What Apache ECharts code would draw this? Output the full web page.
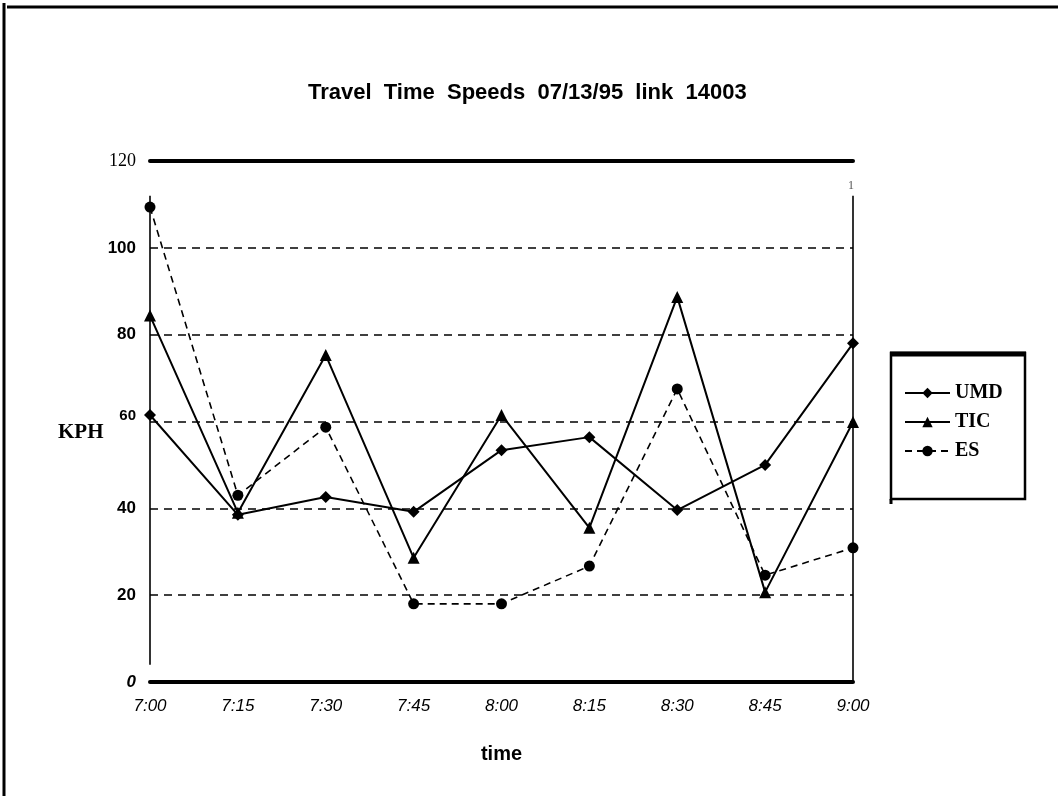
<!DOCTYPE html>
<html>
<head>
<meta charset="utf-8">
<script src="https://cdn.jsdelivr.net/npm/echarts@6/dist/echarts.min.js"></script>
<style>html,body{margin:0;padding:0;background:#fff;}#c{width:1058px;height:796px;}</style>
</head>
<body>
<div id="c"></div>
<script>
const categories = ['7:00','7:15','7:30','7:45','8:00','8:15','8:30','8:45','9:00'];
const umd = [61.5, 38.5, 42.6, 39.2, 53.4, 56.4, 39.6, 50, 78];
const tic = [84.4, 39, 75.3, 28.6, 61.5, 35.5, 88.7, 20.7, 59.9];
const es  = [109.4, 43, 58.7, 18, 18, 26.7, 67.5, 24.6, 30.9];
const yTicks = [0, 20, 40, 60, 80, 100, 120];
const seriesNames = ['UMD', 'TIC', 'ES'];
const titleText = 'Travel  Time  Speeds  07/13/95  link  14003';
const yName = 'KPH';
const xName = 'time';

const SANS = 'Liberation Sans, Arial, sans-serif';
const SERIF = 'Liberation Serif, Times New Roman, serif';

const chart = echarts.init(document.getElementById('c'), null, {renderer: 'canvas'});

const gridColors = yTicks.map((v, i) => (i === 0 || i === yTicks.length - 1) ? 'rgba(0,0,0,0)' : '#000');

const option = {
  backgroundColor: '#fff',
  animation: false,
  title: {
    text: titleText,
    left: 303,
    top: 77,
    textStyle: {fontFamily: SANS, fontWeight: 'bold', fontSize: 22, color: '#000'}
  },
  legend: {
    orient: 'vertical',
    left: 899,
    top: 378,
    itemWidth: 45,
    itemHeight: 13,
    itemGap: 9,
    data: seriesNames,
    textStyle: {fontFamily: SERIF, fontWeight: 'bold', fontSize: 20, color: '#000', lineHeight: 20}
  },
  grid: {left: 150, right: 205, top: 161, bottom: 114, containLabel: false},
  xAxis: [{
    type: 'category',
    data: categories,
    boundaryGap: false,
    position: 'bottom',
    axisLine: {show: true, lineStyle: {color: '#000', width: 4}},
    axisTick: {show: false},
    axisLabel: {margin: 16, fontFamily: SANS, fontStyle: 'italic', fontSize: 17, color: '#000'},
    splitLine: {show: false},
    name: xName,
    nameLocation: 'middle',
    nameGap: 62,
    nameTextStyle: {fontFamily: SANS, fontWeight: 'bold', fontSize: 20, color: '#000'}
  }, {
    type: 'category',
    data: categories,
    boundaryGap: false,
    position: 'top',
    axisLine: {show: true, lineStyle: {color: '#000', width: 4}},
    axisTick: {show: false},
    axisLabel: {show: false},
    splitLine: {show: false}
  }],
  yAxis: {
    type: 'value',
    min: 0,
    max: 120,
    interval: 20,
    axisLine: {show: false},
    axisTick: {show: false},
    axisLabel: {
      margin: 14,
      formatter: function (v) {
        if (v === 120) return '{s|' + v + '}';
        if (v === 0) return '{i|' + v + '}';
        if (v === 60) return '{m|' + v + '}';
        return '{b|' + v + '}';
      },
      rich: {
        s: {fontFamily: SERIF, fontSize: 18, color: '#000'},
        i: {fontFamily: SANS, fontStyle: 'italic', fontWeight: 'bold', fontSize: 17, color: '#000'},
        b: {fontFamily: SANS, fontWeight: 'bold', fontSize: 17, color: '#000'},
        m: {fontFamily: SANS, fontWeight: 'bold', fontSize: 15, color: '#000', padding: [0, 0, 12, 0]}
      }
    },
    splitLine: {show: true, lineStyle: {color: gridColors, width: 1.6, type: [8, 6]}}
  },
  series: [{
    name: seriesNames[0],
    type: 'line',
    data: umd,
    symbol: 'diamond',
    symbolSize: 12,
    lineStyle: {color: '#000', width: 2},
    itemStyle: {color: '#000'},
    markLine: {
      silent: true,
      symbol: ['none', 'none'],
      label: {show: false},
      lineStyle: {type: 'solid', color: '#000', width: 1.6},
      data: [
        [{coord: [0, 112]}, {coord: [0, 4]}],
        [{coord: [8, 112]}, {coord: [8, 0]}]
      ]
    }
  }, {
    name: seriesNames[1],
    type: 'line',
    data: tic,
    symbol: 'triangle',
    symbolSize: 12,
    lineStyle: {color: '#000', width: 2},
    itemStyle: {color: '#000'}
  }, {
    name: seriesNames[2],
    type: 'line',
    data: es,
    symbol: 'circle',
    symbolSize: 11,
    lineStyle: {color: '#000', width: 1.6, type: [7, 5]},
    itemStyle: {color: '#000'}
  }],
  graphic: [
    {type: 'line', shape: {x1: 4, y1: 3, x2: 4, y2: 796}, style: {stroke: '#000', lineWidth: 3}},
    {type: 'line', shape: {x1: 7, y1: 7, x2: 1058, y2: 7}, style: {stroke: '#000', lineWidth: 3}},
    {type: 'rect', shape: {x: 891, y: 353, width: 134, height: 146}, style: {fill: 'none', stroke: '#000', lineWidth: 2.5}},
    {type: 'line', shape: {x1: 890, y1: 354, x2: 1026, y2: 354}, style: {stroke: '#000', lineWidth: 5}},
    {type: 'line', shape: {x1: 891, y1: 499, x2: 891, y2: 504}, style: {stroke: '#000', lineWidth: 3}},
    {type: 'text', left: 58, top: 422, style: {text: yName, font: 'bold 21px ' + SERIF, fill: '#000'}},
    {type: 'text', left: 848, top: 180, style: {text: '1', font: '12px ' + SERIF, fill: '#555'}}
  ]
};
chart.setOption(option);
</script>
</body>
</html>
